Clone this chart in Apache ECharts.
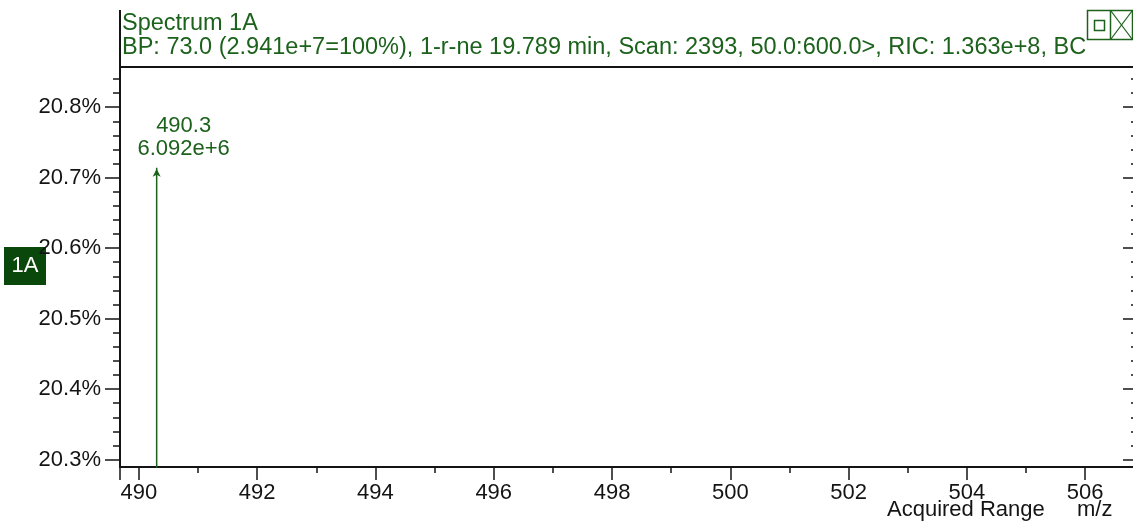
<!DOCTYPE html>
<html>
<head>
<meta charset="utf-8">
<script src="https://cdn.jsdelivr.net/npm/echarts@6/dist/echarts.min.js"></script>
<style>
  html, body { margin: 0; padding: 0; background: #fff; }
  #chart { width: 1133px; height: 522px; }
</style>
</head>
<body>
<div id="chart"></div>
<script>
// Spectrum 1A: single peak inside the 490–506 m/z window
const peakMz = [490.3];
const peakIntensity = [6.092e6];
const basePeakIntensity = 2.941e7;           // BP 73.0 = 100 %
const xTickValues = [490, 492, 494, 496, 498, 500, 502, 504, 506];
const yTickValues = [20.3, 20.4, 20.5, 20.6, 20.7, 20.8];
const xRange = [489.68, 506.81];
const yRange = [20.2895, 20.857];
const titleText = 'Spectrum 1A';
const subText = 'BP: 73.0 (2.941e+7=100%), 1-r-ne 19.789 min, Scan: 2393, 50.0:600.0>, RIC: 1.363e+8, BC';
const xAxisNote = 'Acquired Range';
const xAxisUnit = 'm/z';
const traceTag = '1A';

const GREEN = '#1c621c';
const INK = '#141414';
const FONT = '"Liberation Sans", Arial, sans-serif';
const FS = 22;
const HEAD_FS = 23.5;

// relative abundance in percent of the base peak
const relPct = peakIntensity.map(v => v / basePeakIntensity * 100);

const peakSeries = peakMz.map((mz, i) => ({
  type: 'line',
  xAxisIndex: 0,
  yAxisIndex: 0,
  clip: true,
  silent: true,
  animation: false,
  lineStyle: { color: GREEN, width: 1.5 },
  itemStyle: { color: GREEN },
  data: [
    { value: [mz, 0, peakIntensity[i]], symbol: 'none' },
    {
      value: [mz, relPct[i], peakIntensity[i]],
      symbol: 'arrow',
      symbolSize: [6, 8],
      symbolOffset: [0, 1],
      label: {
        show: true,
        position: 'top',
        offset: [27, -3],
        align: 'center',
        color: GREEN,
        fontFamily: FONT,
        fontSize: FS,
        lineHeight: 23,
        formatter: p => p.value[0].toFixed(1) + '\n' + p.value[2].toExponential(3)
      }
    }
  ]
}));

const chart = echarts.init(document.getElementById('chart'), null, { renderer: 'canvas' });

chart.setOption({
  animation: false,
  backgroundColor: '#fff',
  title: {
    text: titleText,
    subtext: subText,
    left: 122,
    top: 12,
    itemGap: 0,
    padding: 0,
    textStyle: { color: GREEN, fontFamily: FONT, fontSize: HEAD_FS, fontWeight: 'normal', lineHeight: 24 },
    subtextStyle: { color: GREEN, fontFamily: FONT, fontSize: HEAD_FS, lineHeight: 24 }
  },
  grid: { left: 120, right: 0, top: 67, bottom: 55, containLabel: false },
  xAxis: [
    {
      type: 'value',
      position: 'bottom',
      min: xRange[0],
      max: xRange[1],
      splitNumber: 8,
      axisLine: { show: true, onZero: false, lineStyle: { color: INK, width: 2 } },
      axisTick: { show: true, length: 13, lineStyle: { color: INK, width: 1.5 }, customValues: [xRange[0]].concat(xTickValues) },
      minorTick: { show: true, splitNumber: 2, length: 6, lineStyle: { color: INK, width: 1.5 } },
      axisLabel: {
        customValues: xTickValues,
        margin: 15,
        color: INK,
        fontFamily: FONT,
        fontSize: FS,
        formatter: v => String(Math.round(v))
      },
      splitLine: { show: false },
      minorSplitLine: { show: false }
    },
    {
      type: 'value',
      position: 'top',
      min: xRange[0],
      max: xRange[1],
      axisLine: { show: true, onZero: false, lineStyle: { color: INK, width: 2 } },
      axisTick: { show: false },
      axisLabel: { show: false },
      splitLine: { show: false }
    }
  ],
  yAxis: [
    {
      type: 'value',
      position: 'left',
      min: yRange[0],
      max: yRange[1],
      splitNumber: 6,
      axisLine: { show: true, onZero: false, lineStyle: { color: INK, width: 2 } },
      axisTick: { show: true, length: 15, lineStyle: { color: INK, width: 1.5 }, customValues: yTickValues },
      minorTick: { show: true, splitNumber: 5, length: 7, lineStyle: { color: INK, width: 1.5 } },
      axisLabel: {
        customValues: yTickValues,
        margin: 19,
        color: INK,
        fontFamily: FONT,
        fontSize: FS,
        formatter: v => v.toFixed(1) + '%'
      },
      splitLine: { show: false },
      minorSplitLine: { show: false }
    },
    {
      type: 'value',
      position: 'right',
      min: yRange[0],
      max: yRange[1],
      splitNumber: 6,
      axisLine: { show: false },
      axisTick: { show: true, inside: true, length: 10, lineStyle: { color: INK, width: 1.5 }, customValues: yTickValues },
      minorTick: { show: true, splitNumber: 5, length: 2, lineStyle: { color: INK, width: 1.5 } },
      axisLabel: { show: false },
      splitLine: { show: false },
      minorSplitLine: { show: false }
    }
  ],
  series: peakSeries,
  graphic: [
    // left rule continuing up into the header block
    { type: 'line', shape: { x1: 120, y1: 10, x2: 120, y2: 67 }, style: { stroke: INK, lineWidth: 2 } },
    // trace tag
    { type: 'rect', shape: { x: 4, y: 247, width: 42, height: 38 }, style: { fill: '#0a470a' } },
    {
      type: 'text', x: 25, y: 266,
      style: { text: traceTag, fill: '#fff', font: FS + 'px ' + FONT, align: 'center', verticalAlign: 'middle' }
    },
    // window buttons, top right
    { type: 'rect', shape: { x: 1087.5, y: 10.5, width: 45, height: 29 }, style: { fill: 'none', stroke: GREEN, lineWidth: 1.5 } },
    { type: 'line', shape: { x1: 1110.5, y1: 10.5, x2: 1110.5, y2: 39.5 }, style: { stroke: GREEN, lineWidth: 1.5 } },
    { type: 'rect', shape: { x: 1094.5, y: 20.5, width: 10, height: 10 }, style: { fill: 'none', stroke: GREEN, lineWidth: 1.5 } },
    { type: 'line', shape: { x1: 1111, y1: 11, x2: 1132, y2: 39 }, style: { stroke: GREEN, lineWidth: 1.2 } },
    { type: 'line', shape: { x1: 1132, y1: 11, x2: 1111, y2: 39 }, style: { stroke: GREEN, lineWidth: 1.2 } },
    // axis captions
    {
      type: 'text', x: 887, y: 510,
      style: { text: xAxisNote, fill: INK, font: FS + 'px ' + FONT, verticalAlign: 'middle' }
    },
    {
      type: 'text', x: 1077, y: 510,
      style: { text: xAxisUnit, fill: INK, font: FS + 'px ' + FONT, verticalAlign: 'middle' }
    }
  ]
});
</script>
</body>
</html>
